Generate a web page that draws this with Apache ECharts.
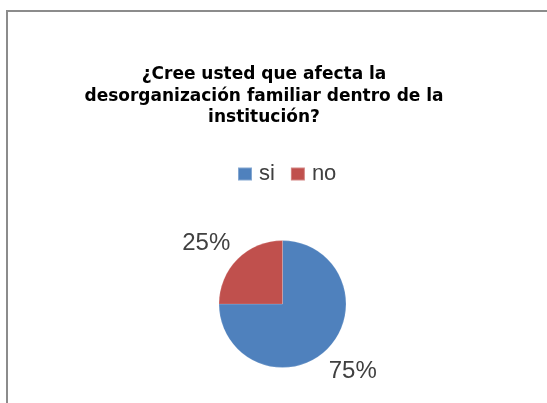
<!DOCTYPE html>
<html>
<head>
<meta charset="utf-8">
<script src="https://cdn.jsdelivr.net/npm/echarts@6/dist/echarts.min.js"></script>
<style>html,body{margin:0;padding:0;background:#fff;}#c{width:547px;height:403px;}</style>
</head>
<body>
<div id="c"></div>
<script>
const titleText = '¿Cree usted que afecta la\ndesorganización familiar dentro de la\ninstitución?';
const categories = ['si', 'no'];
const values = [75, 25];
const colors = ['#4F81BD', '#C0504D'];

const chart = echarts.init(document.getElementById('c'), null, {renderer: 'canvas'});
chart.setOption({
  animation: false,
  backgroundColor: '#ffffff',
  graphic: [{
    type: 'rect', silent: true, z: -1,
    shape: {x: 7, y: 11, width: 700, height: 600},
    style: {fill: 'none', stroke: '#8c8c8c', lineWidth: 2}
  }],
  title: {
    text: titleText,
    left: 259, top: 59, textAlign: 'center',
    textStyle: {fontFamily: 'DejaVu Sans', fontWeight: 'bold', fontSize: 17, lineHeight: 21.5, color: '#000000'}
  },
  legend: {
    data: categories,
    left: 232, top: 158,
    itemWidth: 14, itemHeight: 13, itemGap: 15,
    icon: 'rect',
    textStyle: {fontFamily: 'Liberation Sans', fontSize: 22, color: '#404040', padding: [0, 0, 0, 2]}
  },
  series: [{
    type: 'pie',
    center: [282.5, 304],
    radius: 63.5,
    startAngle: 90,
    clockwise: true,
    color: colors,
    data: categories.map((c, i) => ({name: c, value: values[i]})),
    itemStyle: {borderColor: 'rgba(255,255,255,0.3)', borderWidth: 0.5},
    label: {
      show: true, position: 'outside',
      formatter: p => p.value + '%',
      fontFamily: 'Liberation Sans', fontSize: 24, color: '#404040',
      distanceToLabelLine: 0
    },
    labelLine: {show: false, length: 33, length2: 0},
    labelLayout: function (p) {
      return p.dataIndex === 1
        ? {align: 'center', verticalAlign: 'middle', dx: -8, dy: 8}
        : {align: 'center', verticalAlign: 'middle', dx: 2, dy: -1};
    },
    emphasis: {disabled: true}
  }]
});
</script>
</body>
</html>
